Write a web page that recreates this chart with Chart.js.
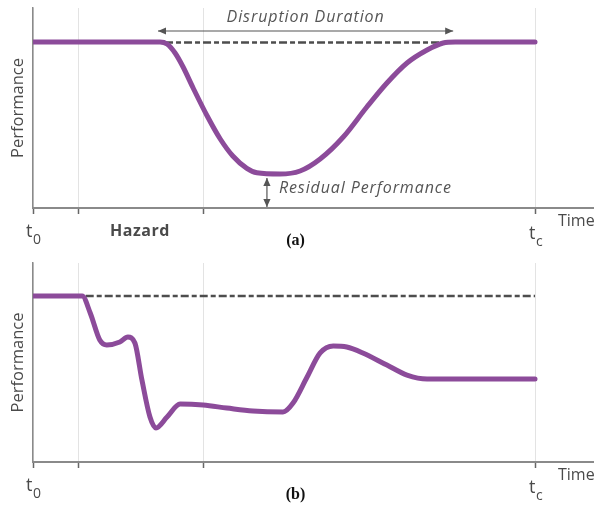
<!DOCTYPE html>
<html>
<head>
<meta charset="utf-8">
<script src="https://cdn.jsdelivr.net/npm/chart.js@4/dist/chart.umd.min.js"></script>
<style>
  html, body { margin: 0; padding: 0; background: #fff; }
  canvas { display: block; }
</style>
</head>
<body>
<canvas id="ca" width="594" height="254"></canvas>
<canvas id="cb" width="594" height="253"></canvas>
<script>
// ---- Data (time in % of t0..tc, performance in %) ----
const tickValues = [0, 9, 34, 100];
const tickLabels = ['t0', '', '', 'tc'];

const timeA = [0, 25.3, 26.7, 28.3, 29.9, 31.9, 34.7, 37.3, 39.8, 42.6, 44.6, 49.2, 53.2, 57.2, 61.8, 66.5, 70.5, 74.5, 78.5, 81.7, 84.1, 100];
const perfA = [83, 83, 82, 77.5, 70.5, 60, 46, 34.5, 26, 19.8, 17.6, 17, 18.5, 24.5, 35.5, 50.5, 62.5, 72.5, 79, 82.5, 83, 83];
const targetA = [82.8, 82.8];
const targetTimeA = [26.3, 82];

const timeB = [0, 9.8, 11.4, 13.3, 14.7, 17.3, 18.9, 20.3, 21.7, 23.3, 24.5, 26.7, 29.3, 33.9, 38.6, 43.8, 49.8, 51.8, 54.6, 57.2, 59.8, 62.5, 65.7, 70.5, 74.5, 78.5, 83.1, 100];
const perfB = [83.4, 83.4, 74.9, 61.3, 58.8, 60.3, 62.8, 59.8, 41.2, 22.6, 17.1, 22.6, 29.1, 28.6, 27.1, 25.6, 25.1, 29.6, 42.7, 54.8, 58.3, 57.8, 54.8, 48.7, 43.7, 41.7, 41.7, 41.7];
const targetB = [83.4, 83.4];
const targetTimeB = [10.5, 100];

const disruption = [24.9, 83.7];   // start/end of disruption duration arrow
const residualTime = 46.6;          // where residual performance arrow is drawn
const hazardTime = 21.3;

const PURPLE = '#8c4b9a';
const TXT = '#4a4a4a';

function pts(xs, ys) { return xs.map((x, i) => ({ x, y: ys[i] })); }

function arrowHead(ctx, x, y, ang, size) {
  ctx.save();
  ctx.translate(x, y);
  ctx.rotate(ang);
  ctx.beginPath();
  ctx.moveTo(0, 0);
  ctx.lineTo(-size, -size * 0.45);
  ctx.lineTo(-size, size * 0.45);
  ctx.closePath();
  ctx.fill();
  ctx.restore();
}
function doubleArrow(ctx, x1, y1, x2, y2) {
  ctx.save();
  ctx.strokeStyle = '#555'; ctx.fillStyle = '#555'; ctx.lineWidth = 1.2;
  ctx.beginPath(); ctx.moveTo(x1, y1); ctx.lineTo(x2, y2); ctx.stroke();
  const ang = Math.atan2(y2 - y1, x2 - x1);
  arrowHead(ctx, x2, y2, ang, 8);
  arrowHead(ctx, x1, y1, ang + Math.PI, 8);
  ctx.restore();
}
function subText(ctx, main, sub, x, y) {
  ctx.save();
  ctx.fillStyle = TXT;
  ctx.textBaseline = 'alphabetic';
  ctx.textAlign = 'left';
  ctx.font = '18px "Open Sans"';
  const w = ctx.measureText(main).width;
  ctx.fillText(main, x, y);
  ctx.font = '14px "Open Sans"';
  ctx.fillText(sub, x + w + 0.5, y + 7);
  ctx.restore();
}

const annot = {
  id: 'annot',
  afterDatasetsDraw(chart, args, o) {
    const ctx = chart.ctx, xs = chart.scales.x, ys = chart.scales.y;
    const base = ys.bottom;
    // t0 / tc labels
    subText(ctx, 't', '0', xs.getPixelForValue(tickValues[0]) - 7, base + 29);
    subText(ctx, 't', 'c', xs.getPixelForValue(tickValues[3]) - 6, base + 31);
    // Time
    ctx.save();
    ctx.fillStyle = TXT; ctx.font = '16px "Open Sans"';
    ctx.textBaseline = 'middle'; ctx.textAlign = 'left';
    ctx.fillText('Time', xs.getPixelForValue(100) + 23, base + 13);
    // panel letter
    ctx.font = 'bold 16px "Liberation Serif"'; ctx.textAlign = 'center'; ctx.fillStyle = '#111';
    ctx.textBaseline = 'alphabetic';
    ctx.fillText(o.letter, xs.getPixelForValue(52.3), base + 37);
    ctx.restore();

    if (o.annotations) {
      ctx.save();
      ctx.fillStyle = TXT; ctx.font = 'bold 16px "Open Sans"';
      ctx.letterSpacing = '0.5px';
      ctx.textAlign = 'center'; ctx.textBaseline = 'middle';
      ctx.fillText('Hazard', xs.getPixelForValue(hazardTime), base + 23);
      // Disruption duration
      const ay = ys.getPixelForValue(88.5);
      doubleArrow(ctx, xs.getPixelForValue(disruption[0]), ay, xs.getPixelForValue(disruption[1]), ay);
      ctx.fillStyle = '#555'; ctx.font = 'italic 16px "Open Sans"';
      ctx.letterSpacing = '0.9px';
      ctx.fillText('Disruption Duration', xs.getPixelForValue((disruption[0] + disruption[1]) / 2), ys.getPixelForValue(95.5));
      // Residual performance
      const minP = Math.min(...perfA);
      const rx = xs.getPixelForValue(residualTime);
      doubleArrow(ctx, rx, ys.getPixelForValue(minP) + 4, rx, ys.getPixelForValue(0) - 1);
      ctx.textAlign = 'left';
      ctx.fillText('Residual Performance', rx + 12, ys.getPixelForValue(minP / 2 + 1.5));
      ctx.restore();
    }
  }
};

function makeChart(id, time, perf, tTime, tVal, letter, annotations, padTop, xH) {
  return new Chart(document.getElementById(id), {
    type: 'line',
    data: {
      datasets: [
        { data: pts(time, perf), borderColor: PURPLE, borderWidth: 5, pointRadius: 0,
          cubicInterpolationMode: 'monotone', borderCapStyle: 'round', borderJoinStyle: 'round' },
        { data: pts(tTime, tVal), borderColor: '#4d4d4d', borderWidth: 2.5, pointRadius: 0,
          borderDash: [8, 3, 5, 3] }
      ]
    },
    options: {
      responsive: false, animation: false, devicePixelRatio: 1,
      layout: { padding: { top: padTop, left: 0, right: 0, bottom: 0 } },
      plugins: { legend: { display: false }, tooltip: { enabled: false },
                 annot: { letter, annotations } },
      scales: {
        x: {
          type: 'linear', min: 0, max: 111.75,
          afterBuildTicks: s => { s.ticks = tickValues.map(v => ({ value: v })); },
          afterFit: s => { s.height = xH; },
          ticks: { display: false, callback: (v, i) => tickLabels[i] },
          grid: { color: '#e3e3e3', lineWidth: 1, drawTicks: true, tickLength: 6, tickColor: '#666', tickWidth: 1.5 },
          border: { display: true, color: '#8a8a8a', width: 2 }
        },
        y: {
          min: 0, max: 100,
          afterFit: s => { s.width = 33; },
          ticks: { display: false },
          grid: { display: false },
          border: { display: true, color: '#8a8a8a', width: 1.5 },
          title: { display: true, text: 'Performance', color: TXT,
                   font: { family: 'Open Sans', size: 16.5 }, padding: { top: 8, bottom: 0 } }
        }
      }
    },
    plugins: [annot]
  });
}

makeChart('ca', timeA, perfA, targetTimeA, targetA, '(a)', true, 8, 46);
makeChart('cb', timeB, perfB, targetTimeB, targetB, '(b)', false, 9, 45);
</script>
</body>
</html>
